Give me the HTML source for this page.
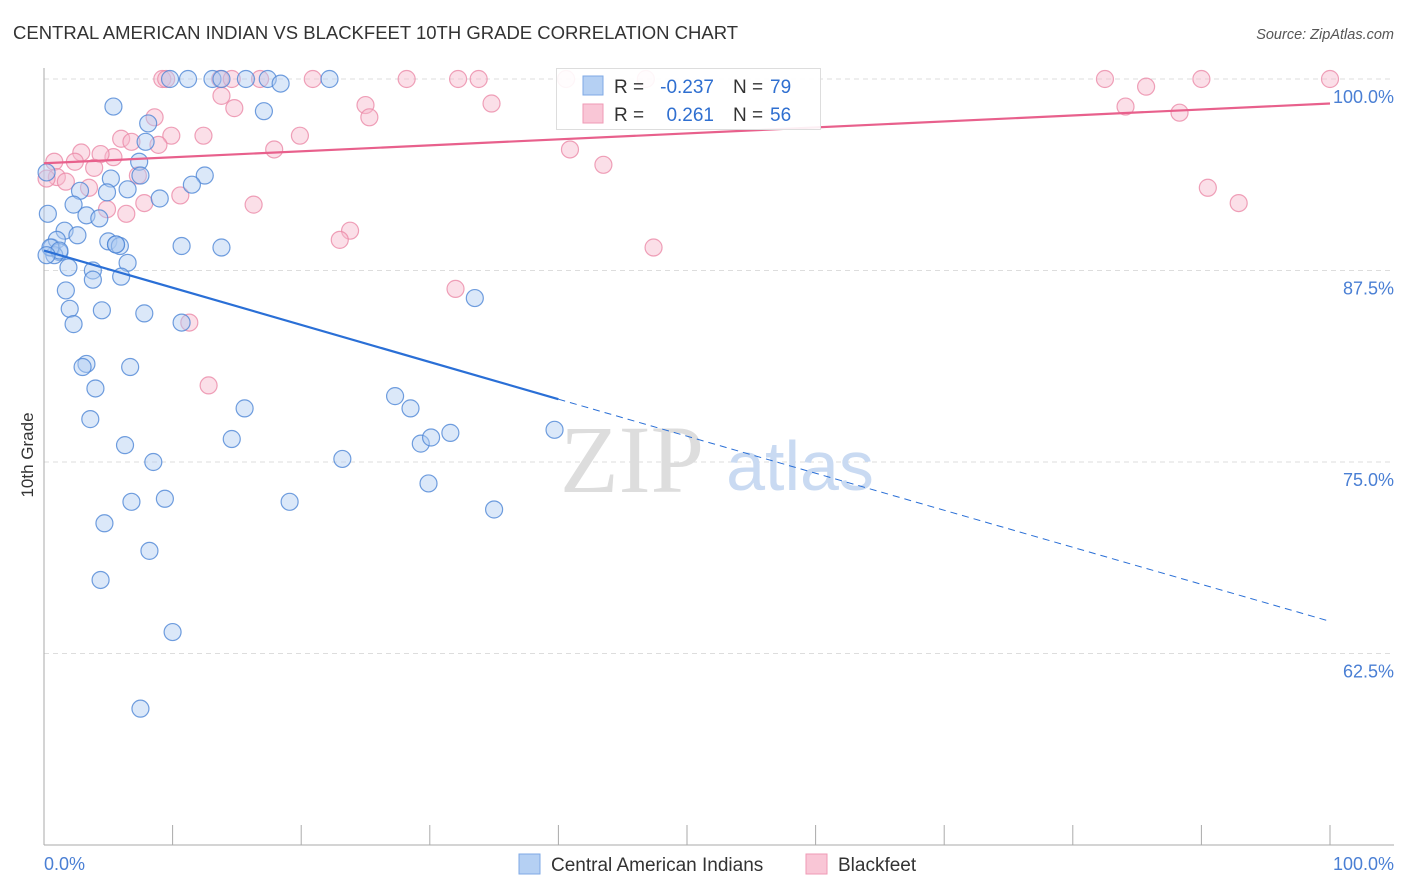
<!DOCTYPE html>
<html><head><meta charset="utf-8"><style>
body{margin:0;background:#fff;font-family:"Liberation Sans",sans-serif}
svg{display:block}
</style></head><body>
<svg id="c" width="1406" height="892" xmlns="http://www.w3.org/2000/svg">
<text x="13" y="39" font-size="18.5" fill="#333">CENTRAL AMERICAN INDIAN VS BLACKFEET 10TH GRADE CORRELATION CHART</text>
<text x="1394" y="39" font-size="14.5" fill="#555" font-style="italic" text-anchor="end">Source: ZipAtlas.com</text>
<text x="33" y="455" font-size="17" fill="#333" transform="rotate(-90 33 455)" text-anchor="middle">10th Grade</text>
<g id="grid"></g>
<g><text x="632" y="492" font-size="96" font-family="Liberation Serif,serif" fill="#ddd" text-anchor="middle">ZIP</text><text x="800" y="490" font-size="70" fill="#c9daf2" text-anchor="middle">atlas</text></g>
<g id="pts"></g>
<g id="lines"></g>
<g>
<rect x="556.5" y="68.5" width="264" height="61" fill="#fff" fill-opacity="0.9" stroke="#ddd"/>
<rect x="583" y="76" width="20" height="19" fill="#b5d0f3" stroke="#7fa9e6"/>
<rect x="583" y="104" width="20" height="19" fill="#f9c6d6" stroke="#ef9ab5"/>
<text x="614" y="93" font-size="19" fill="#333">R = </text><text x="714" y="93" font-size="19" fill="#2f6fd0" text-anchor="end">-0.237</text>
<text x="733" y="93" font-size="19" fill="#333">N = </text><text x="770" y="93" font-size="19" fill="#2f6fd0">79</text>
<text x="614" y="121" font-size="19" fill="#333">R = </text><text x="714" y="121" font-size="19" fill="#2f6fd0" text-anchor="end">0.261</text>
<text x="733" y="121" font-size="19" fill="#333">N = </text><text x="770" y="121" font-size="19" fill="#2f6fd0">56</text>
</g>
<g>
<rect x="519" y="854" width="21" height="20" fill="#b5d0f3" stroke="#7fa9e6"/>
<text x="551" y="871" font-size="19" fill="#333">Central American Indians</text>
<rect x="806" y="854" width="21" height="20" fill="#f9c6d6" stroke="#ef9ab5"/>
<text x="838" y="871" font-size="19" fill="#333">Blackfeet</text>
</g>
<text x="44" y="870" font-size="18" fill="#4a7fd4">0.0%</text>
<text x="1394" y="870" font-size="18" fill="#4a7fd4" text-anchor="end">100.0%</text>
</svg>
<script>
const yTicks=[100,87.5,75,62.5];
const yTickLabels=["100.0%","87.5%","75.0%","62.5%"];
const blueX=[9.8,11.2,13.1,13.8,15.7,17.4,18.4,22.2,5.4,17.1,8.1,7.9,7.4,5.2,7.5,12.5,11.5,4.9,6.5,2.8,9.0,0.3,2.3,3.3,4.3,1.6,2.6,5.0,5.6,5.9,10.7,13.8,0.6,1.0,1.2,0.8,1.9,6.5,3.8,3.8,6.0,1.7,2.0,4.5,7.8,2.3,10.7,33.5,3.3,3.0,6.7,4.0,27.3,28.5,15.6,3.6,14.6,6.3,29.3,30.1,31.6,39.7,23.2,8.5,29.9,6.8,9.4,19.1,35.0,4.7,8.2,4.4,10.0,7.5,0.2,0.5,1.2,0.2,5.6];
const blueY=[100,100,100,100,100,100,99.7,100,98.2,97.9,97.1,95.9,94.6,93.5,93.7,93.7,93.1,92.6,92.8,92.7,92.2,91.2,91.8,91.1,90.9,90.1,89.8,89.4,89.2,89.1,89.1,89.0,89.0,89.5,88.7,88.5,87.7,88.0,87.5,86.9,87.1,86.2,85.0,84.9,84.7,84.0,84.1,85.7,81.4,81.2,81.2,79.8,79.3,78.5,78.5,77.8,76.5,76.1,76.2,76.6,76.9,77.1,75.2,75.0,73.6,72.4,72.6,72.4,71.9,71.0,69.2,67.3,63.9,58.9,93.9,89.0,88.8,88.5,89.2];
const pinkX=[9.2,9.5,13.7,14.6,16.8,20.9,28.2,32.2,33.8,40.6,46.8,82.5,90.0,100,85.7,13.8,25.0,34.8,14.8,25.3,84.1,88.3,8.6,19.9,9.9,12.4,6.0,6.8,8.9,17.9,40.9,5.4,2.9,4.4,43.5,0.8,2.4,3.9,1.0,1.7,7.3,3.5,10.6,7.8,4.9,6.4,16.3,90.5,92.9,23.8,23.0,47.4,32.0,11.3,12.8,0.2];
const pinkY=[100,100,100,100,100,100,100,100,100,100,100,100,100,100,99.5,98.9,98.3,98.4,98.1,97.5,98.2,97.8,97.5,96.3,96.3,96.3,96.1,95.9,95.7,95.4,95.4,94.9,95.2,95.1,94.4,94.6,94.6,94.2,93.6,93.3,93.7,92.9,92.4,91.9,91.5,91.2,91.8,92.9,91.9,90.1,89.5,89.0,86.3,84.1,80.0,93.5];
const blueTrend=[0,88.8,40,79.1,100,64.6];
const pinkTrend=[0,94.5,100,98.4];
const X=v=>44+v*12.86, Y=v=>79+(100-v)*15.32;
const NS="http://www.w3.org/2000/svg";
function mk(t,a,p){const e=document.createElementNS(NS,t);for(const k in a)e.setAttribute(k,a[k]);p.appendChild(e);return e;}
const g=document.getElementById('grid');
yTicks.forEach((t,i)=>{
 const l=mk('line',{x1:44,x2:1394,y1:Y(t),y2:Y(t),stroke:'#ddd','stroke-dasharray':'5,4'},g);
 
 
 const tx=mk('text',{x:1394,y:Y(t)+24,'font-size':18,fill:'#4a7fd4','text-anchor':'end'},g);tx.textContent=yTickLabels[i];
 
 
});
mk('line',{x1:44,x2:44,y1:68,y2:845,stroke:'#aaa'},g);
mk('line',{x1:44,x2:1394,y1:845,y2:845,stroke:'#aaa'},g);
for(let i=1;i<=10;i++){mk('line',{x1:X(i*10),x2:X(i*10),y1:825,y2:845,stroke:'#aaa'},g);}
const p=document.getElementById('pts');
function pts(xs,ys,f,s,n){xs.forEach((x,i)=>{const c=mk('circle',{cx:X(x),cy:Y(ys[i]),r:8.5,fill:f,'fill-opacity':0.45,stroke:s,'stroke-width':1.2,'stroke-opacity':0.8},p);
 
 });}
pts(pinkX,pinkY,'#f7b8cc','#eb8aa8','blackfeet-point');
pts(blueX,blueY,'#b0cdf2','#4d86d6','central-american-point');
const L=document.getElementById('lines');
const b1=mk('line',{x1:X(blueTrend[0]),y1:Y(blueTrend[1]),x2:X(blueTrend[2]),y2:Y(blueTrend[3]),stroke:'#2a6fd6','stroke-width':2.2},L);


const b2=mk('line',{x1:X(blueTrend[2]),y1:Y(blueTrend[3]),x2:X(blueTrend[4]),y2:Y(blueTrend[5]),stroke:'#2a6fd6','stroke-width':1,'stroke-dasharray':'7,5'},L);


const pl=mk('line',{x1:X(pinkTrend[0]),y1:Y(pinkTrend[1]),x2:X(pinkTrend[2]),y2:Y(pinkTrend[3]),stroke:'#e8608c','stroke-width':2.2},L);


</script>
</body></html>
